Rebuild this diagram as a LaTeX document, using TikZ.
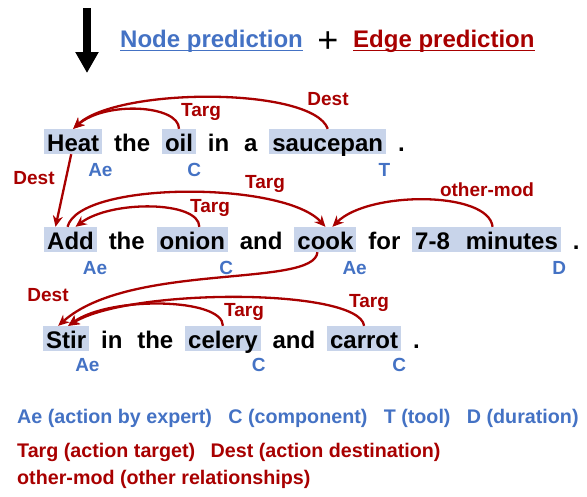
\documentclass[tikz,border=0pt]{standalone}
\usepackage{xcolor}
\usepackage{fontspec}
\setmainfont{Liberation Sans}
\usepackage{tikz}
\usetikzlibrary{arrows.meta, positioning}

\definecolor{nodeblue}{RGB}{68,114,196}
\definecolor{edgered}{RGB}{168,0,0}
\definecolor{hlblue}{RGB}{200,212,234}

\begin{document}
\begin{tikzpicture}[
    x=1pt, y=1pt,
    node distance=8.5pt,
    word/.style={font=\fontsize{24}{28}\selectfont\bfseries, inner xsep=3pt, inner ysep=3pt, text height=19pt, text depth=0pt},
    hl/.style={word, fill=hlblue},
    tag/.style={font=\fontsize{19}{21}\selectfont\bfseries, text=nodeblue, inner sep=0pt, xshift=-2pt},
    rlab/.style={font=\fontsize{19}{21}\selectfont\bfseries, text=edgered, inner sep=0pt},
    rel/.style={draw=edgered, line width=2.3pt, -{Stealth[length=11pt, width=10pt]}},
    legend/.style={font=\fontsize{19.7}{22}\selectfont\bfseries, inner sep=0pt}
]
\useasboundingbox (0,0) rectangle (587,-496);

% Header
\coordinate (arr-top) at (87,-8);
\coordinate (arr-tip) at (87,-73);
\draw[line width=8pt, -{Triangle[length=21pt, width=22pt]}] (arr-top) -- (arr-tip);
\node[font=\fontsize{24}{28}\selectfont\bfseries, text=nodeblue, inner sep=0pt, anchor=base west] (np) at (120,-47) {Node prediction};
\draw[nodeblue, line width=1.6pt] ([yshift=-3.5pt]np.base west) -- ([yshift=-3.5pt]np.base east);
\node[font=\fontsize{36}{40}\selectfont, inner sep=0pt] (plus) at (328,-42) {+};
\node[font=\fontsize{24}{28}\selectfont\bfseries, text=edgered, inner sep=0pt, anchor=base west] (ep) at (353,-47) {Edge prediction};
\draw[edgered, line width=1.6pt] ([yshift=-3.5pt]ep.base west) -- ([yshift=-3.5pt]ep.base east);

% Sentence 1
\node[hl, anchor=base west] (heat) at (44,-151) {Heat};
\node[word, base right=of heat] (the1) {the};
\node[hl, base right=of the1] (oil) {oil};
\node[word, base right=of oil] (in1) {in};
\node[word, base right=of in1] (a1) {a};
\node[hl, base right=of a1] (saucepan) {saucepan};
\node[word, base right=of saucepan] (dot1) {.};

% Sentence 2
\node[hl, anchor=base west] (add) at (44,-249) {Add};
\node[word, base right=of add] (the2) {the};
\node[hl, base right=of the2] (onion) {onion};
\node[word, base right=of onion] (and2) {and};
\node[hl, base right=of and2] (cook) {cook};
\node[word, base right=of cook] (for2) {for};
\node[hl, base right=of for2] (minutes) {7-8\hspace{16pt}minutes};
\node[word, base right=of minutes] (dot2) {.};

% Sentence 3
\node[hl, anchor=base west] (stir) at (43,-348) {Stir};
\node[word, base right=of stir] (in3) {in};
\node[word, base right=of in3] (the3) {the};
\node[hl, base right=of the3] (celery) {celery};
\node[word, base right=of celery] (and3) {and};
\node[hl, base right=of and3] (carrot) {carrot};
\node[word, base right=of carrot] (dot3) {.};

% Node tags
\node[tag, below=9pt of heat.south east] (t-heat) {Ae};
\node[tag, below=9pt of oil.south east] (t-oil) {C};
\node[tag, below=9pt of saucepan.south east] (t-saucepan) {T};
\node[tag, below=9pt of add.south east] (t-add) {Ae};
\node[tag, below=9pt of onion.south east] (t-onion) {C};
\node[tag, below=9pt of cook.south east] (t-cook) {Ae};
\node[tag, below=9pt of minutes.south east] (t-minutes) {D};
\node[tag, below=7pt of stir.south east] (t-stir) {Ae};
\node[tag, below=7pt of celery.south east] (t-celery) {C};
\node[tag, below=7pt of carrot.south east] (t-carrot) {C};

% Edges
\draw[rel] (saucepan.north) .. controls +(-15,42) and +(45,42) .. (heat.north);
\draw[rel] (oil.north) .. controls +(0,24) and +(32,28) .. (heat.north);
\draw[rel] ([xshift=-2pt]heat.south) -- ([xshift=-15pt]add.north);
\draw[rel] ([xshift=-3pt]add.north) .. controls +(12,46) and +(-42,46) .. (cook.north);
\draw[rel] ([xshift=7pt]onion.north) .. controls +(0,26) and +(36,27) .. ([xshift=5pt]add.north);
\draw[rel] ([xshift=6pt]minutes.north) .. controls +(-4,36) and +(36,36) .. ([xshift=7pt]cook.north);
\draw[rel] ([xshift=-8pt]cook.south) .. controls +(-3,-36) and +(72,64) .. ([xshift=-8pt]stir.north);
\draw[rel] (celery.north) .. controls +(0,28) and +(42,30) .. ([xshift=2pt]stir.north);
\draw[rel] (carrot.north) .. controls +(-5,38) and +(62,38) .. ([xshift=2pt]stir.north);

% Edge labels
\node[rlab] (l-dest1) at (328,-99) {Dest};
\node[rlab] (l-targ1) at (201,-112) {Targ};
\node[rlab] (l-dest2) at (34,-178) {Dest};
\node[rlab] (l-targ2) at (265,-184) {Targ};
\node[rlab] (l-targ3) at (210,-208) {Targ};
\node[rlab] (l-other) at (487,-190) {other-mod};
\node[rlab] (l-dest3) at (48,-295) {Dest};
\node[rlab] (l-targ4) at (244,-312) {Targ};
\node[rlab] (l-targ5) at (369,-303) {Targ};

% Legend
\node[legend, text=nodeblue, anchor=base west] (lg-ae) at (17,-423) {Ae (action by expert)};
\node[legend, text=nodeblue, base right=16pt of lg-ae] (lg-c) {C (component)};
\node[legend, text=nodeblue, base right=16pt of lg-c] (lg-t) {T (tool)};
\node[legend, text=nodeblue, base right=16pt of lg-t] (lg-d) {D (duration)};
\node[legend, text=edgered, anchor=base west] (lg-targ) at (17,-457) {Targ (action target)};
\node[legend, text=edgered, base right=15pt of lg-targ] (lg-dest) {Dest (action destination)};
\node[legend, text=edgered, anchor=base west] (lg-other) at (17,-484) {other-mod (other relationships)};
\end{tikzpicture}
\end{document}
